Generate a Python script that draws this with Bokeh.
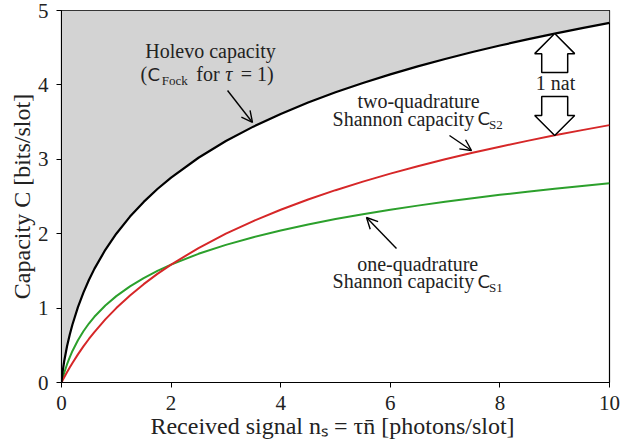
from bokeh.plotting import figure
from bokeh.models import Label, Arrow, OpenHead, ColumnDataSource, FixedTicker
from bokeh.embed import file_html
from bokeh.resources import INLINE

# ---- data ----
n_s = [0, 0.005, 0.01, 0.02, 0.05, 0.1, 0.15, 0.2, 0.3, 0.4, 0.5, 0.6, 0.8, 1.0,
       1.25, 1.5, 1.75, 2, 2.5, 3, 3.5, 4, 4.5, 5, 5.5, 6, 6.5, 7, 7.5, 8, 8.5,
       9, 9.5, 10]
holevo = [0, 0.0455, 0.0809, 0.1420, 0.2900, 0.4834, 0.6424, 0.7800, 1.0132,
          1.2084, 1.3774, 1.5271, 1.7839, 2.0, 2.2299, 2.4274, 2.6006, 2.7549,
          3.0209, 3.2451, 3.4389, 3.6096, 3.7622, 3.9001, 4.0260, 4.1417,
          4.2488, 4.3485, 4.4418, 4.5293, 4.6119, 4.6900, 4.7640, 4.8345]
shannon2 = [0, 0.0072, 0.0144, 0.0286, 0.0704, 0.1375, 0.2016, 0.2630, 0.3785,
            0.4854, 0.5850, 0.6781, 0.8480, 1.0, 1.1699, 1.3219, 1.4594, 1.5850,
            1.8074, 2.0, 2.1699, 2.3219, 2.4594, 2.5850, 2.7004, 2.8074, 2.9069,
            3.0, 3.0875, 3.1699, 3.2479, 3.3219, 3.3923, 3.4594]
shannon1 = [0, 0.0143, 0.0283, 0.0555, 0.1315, 0.2427, 0.3390, 0.4240, 0.5688,
            0.6893, 0.7925, 0.8828, 1.0352, 1.1610, 1.2925, 1.4037, 1.5, 1.5850,
            1.7297, 1.8502, 1.9534, 2.0437, 2.1240, 2.1962, 2.2618, 2.3219,
            2.3774, 2.4290, 2.4771, 2.5222, 2.5646, 2.6047, 2.6427, 2.6788]
x_ticks = [0, 2, 4, 6, 8, 10]
y_ticks = [0, 1, 2, 3, 4, 5]
y_top = [5.0] * len(n_s)

SERIF = "Liberation Serif"
SANS = "DejaVu Sans"

src = ColumnDataSource(dict(x=n_s, h=holevo, s2=shannon2, s1=shannon1, top=y_top))

p = figure(width=624, height=448, x_range=(0, 10), y_range=(0, 5),
           output_backend="svg", toolbar_location=None,
           min_border_left=61, min_border_right=15, min_border_top=10, min_border_bottom=66)
p.background_fill_color = "white"
p.border_fill_color = "white"
p.outline_line_color = "black"
p.outline_line_width = 1.2
p.grid.visible = False

# shaded region above the Holevo curve
p.varea(x="x", y1="h", y2="top", source=src, fill_color="#d3d3d3")

p.line(x="x", y="s1", source=src, line_color="#2ca02c", line_width=2)
p.line(x="x", y="s2", source=src, line_color="#d62728", line_width=2)
p.line(x="x", y="h", source=src, line_color="black", line_width=2.2)

for ax in (p.xaxis[0], p.yaxis[0]):
    ax.major_tick_in = 0
    ax.major_tick_out = 5
    ax.minor_tick_line_color = None
    ax.axis_line_color = "black"
    ax.major_tick_line_color = "black"
    ax.major_label_text_font = SERIF
    ax.major_label_text_font_size = "21px"
    ax.major_label_text_line_height = 0.9
    ax.major_label_text_color = "#222222"
    ax.axis_label_text_font = SERIF
    ax.axis_label_text_font_size = "24px"
    ax.axis_label_text_font_style = "normal"
    ax.axis_label_text_color = "#222222"
p.xaxis.ticker = FixedTicker(ticks=x_ticks)
p.yaxis.ticker = FixedTicker(ticks=y_ticks)
p.xaxis.axis_label = "Received signal nₛ = τn̄  [photons/slot]"
p.yaxis.axis_label = "Capacity C [bits/slot]"
p.xaxis.major_label_standoff = 8
p.yaxis.major_label_standoff = 8
p.xaxis.axis_label_standoff = 0
p.yaxis.axis_label_standoff = 0

FS = "20px"
SUB = "13px"
CFS = "18px"
COL = "#222222"

def lab(x, y, t, font=SERIF, size=FS, align="left", style="normal"):
    p.add_layout(Label(x=x, y=y, text=t, text_font=font, text_font_size=size,
                       text_align=align, text_baseline="middle", text_color=COL,
                       text_font_style=style))

# Holevo annotation
lab(2.72, 4.449, "Holevo capacity", align="center")
lab(1.44, 4.140, "(")
lab(1.57, 4.140, "C", font=SANS, size=CFS)
lab(1.83, 4.06, "Fock", size=SUB)
lab(2.46, 4.140, "for")
lab(2.99, 4.140, "τ", style="italic")
lab(3.27, 4.140, "= 1)")

# two-quadrature annotation
lab(6.515, 3.790, "two-quadrature", align="center")
lab(7.53, 3.548, "Shannon capacity", align="right")
lab(7.59, 3.548, "C", font=SANS, size=CFS)
lab(7.80, 3.468, "S2", size=SUB)

# one-quadrature annotation
lab(6.50, 1.599, "one-quadrature", align="center")
lab(7.53, 1.358, "Shannon capacity", align="right")
lab(7.59, 1.358, "C", font=SANS, size=CFS)
lab(7.80, 1.277, "S1", size=SUB)

lab(9.015, 4.032, "1 nat", align="center")

# thin arrows
for (xs, ys, xe, ye) in [(3.03, 3.925, 3.485, 3.495),
                         (7.08, 3.32, 7.482, 3.118),
                         (6.113, 1.801, 5.566, 2.218)]:
    p.add_layout(Arrow(x_start=xs, y_start=ys, x_end=xe, y_end=ye,
                       line_color="black", line_width=1.4,
                       end=OpenHead(size=11, line_color="black", line_width=1.4)))

# block arrows (annotation shapes)
up_x = [9.0, 9.365, 9.237, 9.237, 8.763, 8.763, 8.635]
up_y = [4.69, 4.42, 4.42, 4.167, 4.167, 4.42, 4.42]
dn_x = [8.763, 9.237, 9.237, 9.365, 9.0, 8.635, 8.763]
dn_y = [3.844, 3.844, 3.589, 3.589, 3.32, 3.589, 3.589]
p.patch(up_x, up_y, fill_color="white", line_color="black", line_width=1.5)
p.patch(dn_x, dn_y, fill_color="white", line_color="black", line_width=1.5)

open("out.html", "w").write(file_html(p, INLINE))
